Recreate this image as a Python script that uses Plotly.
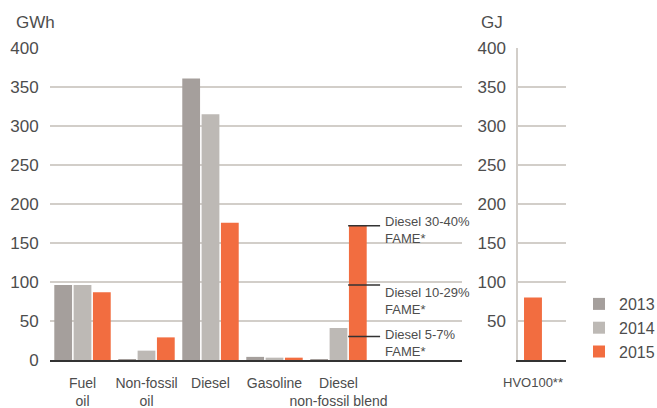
import plotly.graph_objects as go

# ── data ────────────────────────────────────────────────────────────────────
categories = ["Fuel<br>oil", "Non-fossil<br>oil", "Diesel", "Gasoline",
              "Diesel<br>non-fossil blend"]
years = ["2013", "2014", "2015"]
gwh_2013 = [96, 1, 361, 4, 1]
gwh_2014 = [96, 12, 315, 3, 41]
gwh_2015 = [87, 29, 176, 3, 172]

# split of the 2015 diesel non-fossil blend bar (GWh)
blend_labels = ["Diesel 5-7%<br>FAME*", "Diesel 10-29%<br>FAME*",
                "Diesel 30-40%<br>FAME*"]
blend_parts = [30, 66, 76]

hvo_category = ["HVO100**"]
hvo_gj_2015 = [80]

# ── style ───────────────────────────────────────────────────────────────────
COLOURS = {"2013": "#a59f9c", "2014": "#bdb9b5", "2015": "#f26d40"}
GRID = "#d2cec9"
TEXT = "#4d4d4d"
FONT = "Liberation Sans, Arial, sans-serif"
BARGAP = 0.094
GROUPGAP = 0.08

W, H = 657, 408
T, B = 48, 48


def px_x(x):
    """screen x (reference pixels) -> paper x"""
    return x / W


def px_y(y):
    """screen y (reference pixels) -> paper y"""
    return (H - B - y) / (H - T - B)


fig = go.Figure()

for year, vals in zip(years, [gwh_2013, gwh_2014, gwh_2015]):
    fig.add_trace(go.Bar(
        x=categories, y=vals, name=year,
        marker=dict(color=COLOURS[year], line_width=0),
        xaxis="x", yaxis="y",
    ))

fig.add_trace(go.Bar(
    x=hvo_category, y=hvo_gj_2015, name="2015", showlegend=False,
    marker=dict(color=COLOURS["2015"], line_width=0),
    width=0.28, xaxis="x2", yaxis="y2",
))

# separator lines + labels on the blend bar
blend_idx = len(categories) - 1
bar_left = blend_idx + (1 - BARGAP) / 6
cum = 0
label_shift = [12, 2, 14]
for lab, part, ys in zip(blend_labels, blend_parts, label_shift):
    cum += part
    fig.add_shape(type="line", xref="x", yref="y",
                  x0=bar_left, x1=blend_idx + 0.65, y0=cum, y1=cum,
                  line=dict(color="#333333", width=1.5))
    fig.add_annotation(x=blend_idx + 0.69, y=cum, xref="x", yref="y",
                       text=lab, showarrow=False, xanchor="left",
                       yanchor="top", yshift=ys, align="left",
                       font=dict(size=13, color=TEXT, family=FONT))

# unit labels
fig.add_annotation(x=px_x(14), y=px_y(22), xref="paper", yref="paper",
                   text="GWh", showarrow=False, xanchor="left",
                   yanchor="middle", font=dict(size=17, color=TEXT, family=FONT))
fig.add_annotation(x=px_x(479), y=px_y(22), xref="paper", yref="paper",
                   text="GJ", showarrow=False, xanchor="left",
                   yanchor="middle", font=dict(size=17, color=TEXT, family=FONT))

ticks = list(range(0, 401, 50))

fig.update_layout(
    width=W, height=H, autosize=False,
    # legend runs off the right edge like the original; don't let it push
    margin=dict(l=0, r=0, t=T, b=B, autoexpand=False),
    paper_bgcolor="white", plot_bgcolor="white",
    font=dict(family=FONT, color=TEXT, size=14),
    barmode="group", bargap=BARGAP, bargroupgap=GROUPGAP,
    showlegend=True,
    legend=dict(x=px_x(579), y=px_y(287), xanchor="left", yanchor="top",
                font=dict(size=16, color=TEXT), bgcolor="rgba(0,0,0,0)",
                itemclick=False, tracegroupgap=0),
    xaxis=dict(domain=[px_x(50), px_x(462)], range=[-0.508, 5.93],
               automargin=False, tickangle=0,
               showline=True, linecolor="#333333", linewidth=2,
               ticks="outside", ticklen=9, tickcolor="rgba(0,0,0,0)",
               tickfont=dict(size=14, color=TEXT), showgrid=False),
    yaxis=dict(range=[0, 400], tickvals=ticks, showgrid=True,
               automargin=False,
               gridcolor=GRID, gridwidth=1.5, zeroline=False,
               ticks="outside", ticklen=7, tickcolor="rgba(0,0,0,0)",
               tickfont=dict(size=17, color=TEXT)),
    xaxis2=dict(domain=[px_x(518), px_x(566)], range=[-0.234, 0.516],
                automargin=False, tickangle=0,
                anchor="y2", showline=True, linecolor="#333333", linewidth=2,
                ticks="outside", ticklen=9, tickcolor="rgba(0,0,0,0)",
                tickfont=dict(size=13, color=TEXT), showgrid=False),
    yaxis2=dict(anchor="x2", range=[0, 400], tickvals=ticks[1:],
                automargin=False,
                showgrid=True, gridcolor=GRID, gridwidth=1.5, zeroline=False,
                showline=True, linecolor=GRID, linewidth=1.5,
                ticks="outside", ticklen=7, tickcolor="rgba(0,0,0,0)",
                tickfont=dict(size=17, color=TEXT)),
)

# drop the default 8px page margin so the figure fills the window exactly
fig.write_html("out.html",
               config={"responsive": False, "displayModeBar": False},
               post_script="document.body.style.margin='0';"
                           "document.body.style.overflow='hidden';")
